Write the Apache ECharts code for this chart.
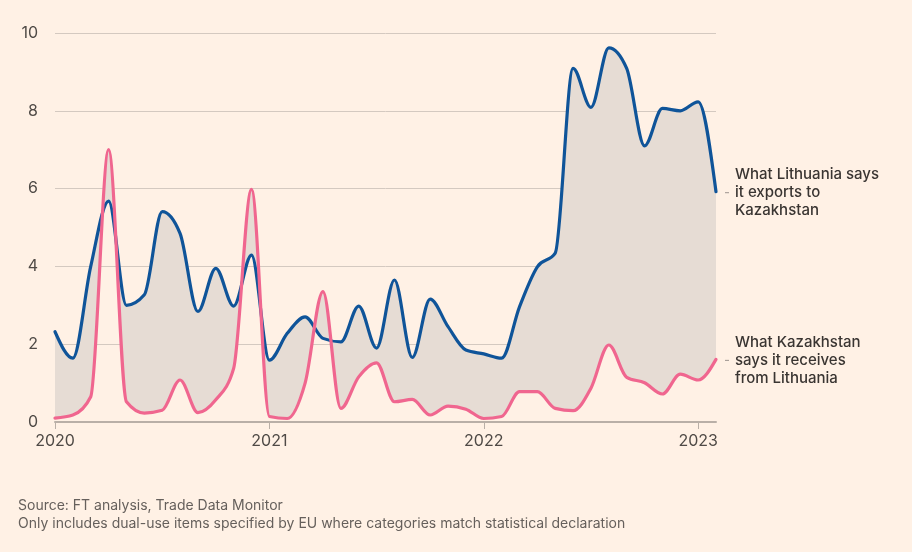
<!DOCTYPE html>
<html>
<head>
<meta charset="utf-8">
<script src="https://cdn.jsdelivr.net/npm/echarts@6/dist/echarts.min.js"></script>
<style>
html,body{margin:0;padding:0;background:#fff1e5;}
#chart{width:912px;height:552px;}
</style>
</head>
<body>
<div id="chart"></div>
<script>
// Monthly categories, Jan 2020 – Feb 2023
const months = [
  '2020-01','2020-02','2020-03','2020-04','2020-05','2020-06','2020-07','2020-08','2020-09','2020-10','2020-11','2020-12',
  '2021-01','2021-02','2021-03','2021-04','2021-05','2021-06','2021-07','2021-08','2021-09','2021-10','2021-11','2021-12',
  '2022-01','2022-02','2022-03','2022-04','2022-05','2022-06','2022-07','2022-08','2022-09','2022-10','2022-11','2022-12',
  '2023-01','2023-02'
];
// What Lithuania says it exports to Kazakhstan
const lithuaniaExports = [
  2.32, 1.64, 4.0, 5.68, 3.0, 3.27, 5.41, 4.85, 2.84, 3.95, 2.98, 4.29,
  1.59, 2.28, 2.7, 2.15, 2.06, 2.98, 1.9, 3.65, 1.66, 3.16, 2.45, 1.85,
  1.75, 1.64, 2.96, 3.99, 4.34, 9.09, 8.09, 9.62, 9.09, 7.1, 8.06, 8.0,
  8.23, 5.92
];
// What Kazakhstan says it receives from Lithuania
const kazakhstanImports = [
  0.1, 0.18, 0.65, 7.0, 0.52, 0.23, 0.3, 1.08, 0.24, 0.57, 1.38, 5.98,
  0.14, 0.09, 1.0, 3.35, 0.35, 1.16, 1.52, 0.52, 0.58, 0.18, 0.41, 0.33,
  0.09, 0.14, 0.78, 0.78, 0.35, 0.29, 0.87, 1.98, 1.15, 1.01, 0.72, 1.23,
  1.08, 1.61
];
const yTicks = [0, 2, 4, 6, 8, 10];
const yearLabels = ['2020', '2021', '2022', '2023'];
const labelLithuania = 'What Lithuania says\nit exports to\nKazakhstan';
const labelKazakhstan = 'What Kazakhstan\nsays it receives\nfrom Lithuania';
const sourceText = 'Source: FT analysis, Trade Data Monitor';
const noteText = 'Only includes dual-use items specified by EU where categories match statistical declaration';

const BLUE = '#0f5499';
const PINK = '#f0668f';
const BAND = '#e6dcd4';
const TEXT = '#4f4a46';
const FONT = 'Inter, "Noto Sans", sans-serif';

// d3-style monotone-x cubic segments in pixel space
function monotoneSegments(pts) {
  const n = pts.length, h = [], s = [], t = new Array(n);
  const sign = x => (x < 0 ? -1 : 1);
  for (let i = 0; i < n - 1; i++) {
    h[i] = pts[i + 1][0] - pts[i][0];
    s[i] = (pts[i + 1][1] - pts[i][1]) / h[i];
  }
  for (let i = 1; i < n - 1; i++) {
    const p = (s[i - 1] * h[i] + s[i] * h[i - 1]) / (h[i - 1] + h[i]);
    t[i] = (sign(s[i - 1]) + sign(s[i])) * Math.min(Math.abs(s[i - 1]), Math.abs(s[i]), 0.5 * Math.abs(p)) || 0;
  }
  t[0] = (3 * s[0] - t[1]) / 2;
  t[n - 1] = (3 * s[n - 2] - t[n - 2]) / 2;
  const segs = [];
  for (let i = 0; i < n - 1; i++) {
    const [x0, y0] = pts[i], [x1, y1] = pts[i + 1], dx = (x1 - x0) / 3;
    segs.push({ p0: pts[i], c1: [x0 + dx, y0 + dx * t[i]], c2: [x1 - dx, y1 - dx * t[i + 1]], p1: pts[i + 1] });
  }
  return segs;
}
const f = v => v.toFixed(2);
function forwardPath(segs, move) {
  let d = move ? 'M' + f(segs[0].p0[0]) + ' ' + f(segs[0].p0[1]) : '';
  segs.forEach(g => { d += ' C' + f(g.c1[0]) + ' ' + f(g.c1[1]) + ' ' + f(g.c2[0]) + ' ' + f(g.c2[1]) + ' ' + f(g.p1[0]) + ' ' + f(g.p1[1]); });
  return d;
}
function backwardPath(segs) {
  let d = '';
  for (let i = segs.length - 1; i >= 0; i--) {
    const g = segs[i];
    d += ' C' + f(g.c2[0]) + ' ' + f(g.c2[1]) + ' ' + f(g.c1[0]) + ' ' + f(g.c1[1]) + ' ' + f(g.p0[0]) + ' ' + f(g.p0[1]);
  }
  return d;
}

const chart = echarts.init(document.getElementById('chart'));

const seriesData = months.map((m, i) => [i, lithuaniaExports[i], kazakhstanImports[i]]);

function renderAll(params, api) {
  if (params.dataIndex !== 0) return null;
  const bPts = months.map((m, i) => api.coord([i, lithuaniaExports[i]]));
  const pPts = months.map((m, i) => api.coord([i, kazakhstanImports[i]]));
  const bSeg = monotoneSegments(bPts);
  const pSeg = monotoneSegments(pPts);
  const lastB = bPts[bPts.length - 1];
  const lastP = pPts[pPts.length - 1];
  const band = forwardPath(bSeg, true) + ' L' + f(lastP[0]) + ' ' + f(lastP[1]) + backwardPath(pSeg) + ' Z';
  const children = [
    { type: 'path', shape: { pathData: band }, style: { fill: BAND, stroke: null }, z2: 1 },
    { type: 'path', shape: { pathData: forwardPath(bSeg, true) },
      style: { fill: null, stroke: BLUE, lineWidth: 3.2, lineJoin: 'round', lineCap: 'round' }, z2: 3 },
    { type: 'path', shape: { pathData: forwardPath(pSeg, true) },
      style: { fill: null, stroke: PINK, lineWidth: 3.2, lineJoin: 'round', lineCap: 'round' }, z2: 4 }
  ];
  [[lastB, labelLithuania], [lastP, labelKazakhstan]].forEach(([pt, txt]) => {
    children.push({ type: 'line', shape: { x1: pt[0] + 9, y1: pt[1] + 1, x2: pt[0] + 13, y2: pt[1] + 1 },
      style: { stroke: '#9c948e', lineWidth: 1 }, z2: 5 });
    children.push({ type: 'text', x: pt[0] + 19, y: pt[1] + 1, z2: 5,
      style: { text: txt, fill: '#3a3532', font: '500 15px ' + FONT, lineHeight: 18,
        align: 'left', verticalAlign: 'middle' } });
  });
  return { type: 'group', children };
}

chart.setOption({
  backgroundColor: '#fff1e5',
  animation: false,
  textStyle: { fontFamily: FONT },
  grid: { left: 55, right: 196, top: 33, bottom: 130, containLabel: false },
  xAxis: {
    type: 'category',
    data: months,
    boundaryGap: false,
    axisLine: { show: true, lineStyle: { color: '#b9afa7', width: 2 } },
    axisTick: { show: true, length: 7, interval: i => i % 12 === 0, lineStyle: { color: '#b9afa7', width: 1 } },
    axisLabel: {
      interval: i => i % 12 === 0,
      formatter: v => yearLabels[yearLabels.indexOf(v.slice(0, 4))],
      color: TEXT, fontSize: 16, margin: 11, fontFamily: FONT
    },
    splitLine: { show: false }
  },
  yAxis: {
    type: 'value',
    min: yTicks[0], max: yTicks[yTicks.length - 1], interval: 2,
    axisLine: { show: false },
    axisTick: { show: false },
    axisLabel: { color: TEXT, fontSize: 16, margin: 17, fontFamily: FONT },
    splitLine: { show: true, lineStyle: { color: '#d4c9c0', width: 1 } }
  },
  series: [{
    type: 'custom',
    name: 'Lithuania vs Kazakhstan',
    coordinateSystem: 'cartesian2d',
    data: seriesData,
    encode: { x: 0, y: [1, 2] },
    renderItem: renderAll,
    clip: false,
    silent: true,
    z: 3
  }],
  graphic: [
    { type: 'text', left: 18, top: 499, style: { text: sourceText, fill: '#66605c', font: '14px ' + FONT } },
    { type: 'text', left: 18, top: 517, style: { text: noteText, fill: '#66605c', font: '14px ' + FONT } }
  ]
});
</script>
</body>
</html>
